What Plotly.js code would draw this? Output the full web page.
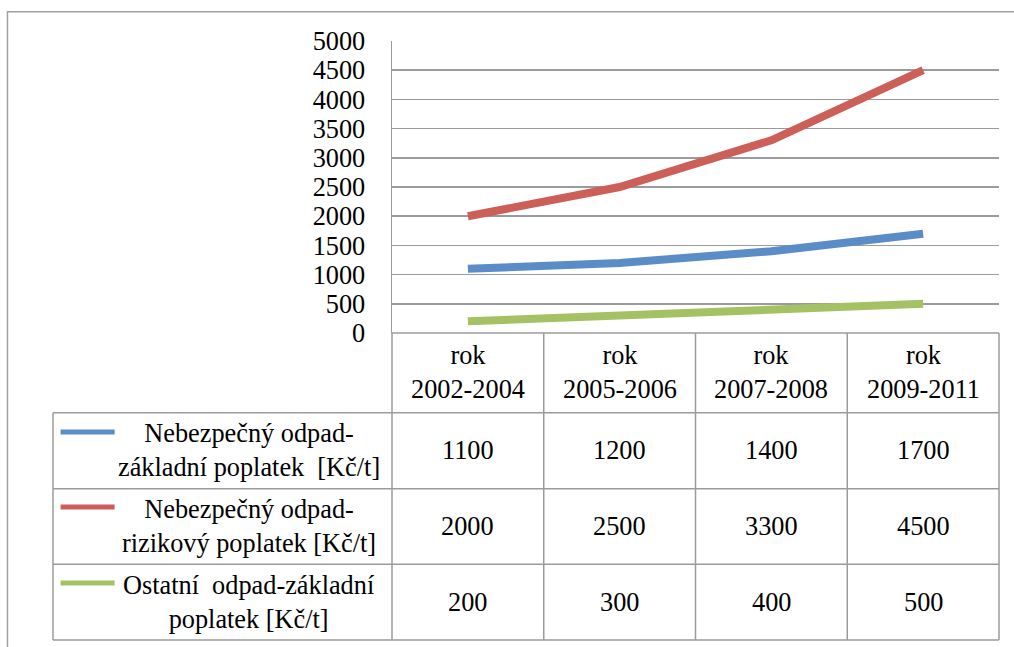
<!DOCTYPE html>
<html>
<head>
<meta charset="utf-8">
<script src="https://cdn.plot.ly/plotly-3.0.1.min.js"></script>
<style>html,body{margin:0;padding:0;background:#fff;}#chart{width:1014px;height:647px;}</style>
</head>
<body>
<div id="chart"></div>
<script>
// ---- data ----
const categories = ['rok 2002-2004', 'rok 2005-2006', 'rok 2007-2008', 'rok 2009-2011'];
const headerLabels = ['rok<br>2002-2004', 'rok<br>2005-2006', 'rok<br>2007-2008', 'rok<br>2009-2011'];
const seriesNames = [
  'Nebezpečný odpad-<br>základní poplatek&nbsp;&nbsp;[Kč/t]',
  'Nebezpečný odpad-<br>rizikový poplatek [Kč/t]',
  'Ostatní&nbsp;&nbsp;odpad-základní<br>poplatek [Kč/t]'
];
const zakladniNebezpecny = [1100, 1200, 1400, 1700];
const rizikovyNebezpecny = [2000, 2500, 3300, 4500];
const zakladniOstatni = [200, 300, 400, 500];
const yTicks = [0, 500, 1000, 1500, 2000, 2500, 3000, 3500, 4000, 4500, 5000];

const allSeries = [zakladniNebezpecny, rizikovyNebezpecny, zakladniOstatni];
const colors = ['#5A8DC8', '#CC5F57', '#A4C264'];

const FONT = 'Liberation Serif';
const FS = 26.3;
const GRID = '#9B9B9B';

const traces = allSeries.map((vals, i) => ({
  x: categories,
  y: vals,
  type: 'scatter',
  mode: 'lines',
  line: {color: colors[i], width: 8},
  showlegend: false,
  hoverinfo: 'skip'
}));

// table geometry in paper coords
const rowBounds = [0, -0.273, -0.533, -0.792, -1.051];
const legendLeft = -0.5585;
const shapes = [];
const ln = (x0, y0, x1, y1, color, width) => shapes.push({type: 'line', xref: 'paper', yref: 'paper', x0, y0, x1, y1, line: {color: color || GRID, width: width || 1.5}, layer: 'above'});

// outer chart frame
shapes.push({type: 'rect', xref: 'paper', yref: 'paper', x0: -0.6335, y0: 1.1, x1: 1.05, y1: -1.2, line: {color: '#A0A0A0', width: 1.5}, layer: 'below'});
// horizontal table lines
ln(0, 0, 1, 0);
for (let r = 1; r < rowBounds.length; r++) ln(legendLeft, rowBounds[r], 1, rowBounds[r]);
// vertical table lines
for (let c = 0; c <= categories.length; c++) ln(c / categories.length, 0, c / categories.length, rowBounds[4]);
ln(legendLeft, rowBounds[1], legendLeft, rowBounds[4]);
// legend key lines
const keyY = [-0.339, -0.596, -0.856];
keyY.forEach((y, i) => shapes.push({type: 'line', xref: 'paper', yref: 'paper', x0: -0.546, x1: -0.457, y0: y, y1: y, line: {color: colors[i], width: 5}}));

const annotations = [];
const tfont = {family: FONT, size: FS, color: '#000'};
categories.forEach((c, j) => {
  annotations.push({xref: 'x', yref: 'paper', x: c, y: (rowBounds[0] + rowBounds[1]) / 2, text: headerLabels[j], showarrow: false, font: tfont, align: 'center', xanchor: 'center', yanchor: 'middle'});
});
allSeries.forEach((vals, i) => {
  const yc = (rowBounds[i + 1] + rowBounds[i + 2]) / 2;
  annotations.push({xref: 'paper', yref: 'paper', x: -0.236, y: yc, text: seriesNames[i], showarrow: false, font: tfont, align: 'center', xanchor: 'center', yanchor: 'middle'});
  vals.forEach((v, j) => {
    annotations.push({xref: 'x', yref: 'paper', x: categories[j], y: yc, text: String(v), showarrow: false, font: tfont, xanchor: 'center', yanchor: 'middle'});
  });
});

const layout = {
  width: 1014,
  height: 647,
  margin: {l: 392, r: 15, t: 41, b: 314, pad: 0},
  paper_bgcolor: '#fff',
  plot_bgcolor: '#fff',
  showlegend: false,
  font: {family: FONT, size: FS, color: '#000'},
  xaxis: {
    type: 'category',
    range: [-0.5, 3.5],
    showgrid: false,
    showticklabels: false,
    ticks: '',
    showline: false,
    zeroline: false,
    fixedrange: true,
    automargin: false
  },
  yaxis: {
    range: [0, 5000],
    tickvals: yTicks,
    ticktext: yTicks.map(String),
    showgrid: true,
    gridcolor: GRID,
    gridwidth: 1.5,
    showline: true,
    linecolor: GRID,
    linewidth: 1.5,
    zeroline: false,
    ticks: '',
    ticklabelstandoff: 20,
    tickfont: {family: FONT, size: FS, color: '#000'},
    fixedrange: true,
    automargin: false
  },
  shapes,
  annotations
};

Plotly.newPlot('chart', traces, layout, {displayModeBar: false, staticPlot: true});
</script>
</body>
</html>
